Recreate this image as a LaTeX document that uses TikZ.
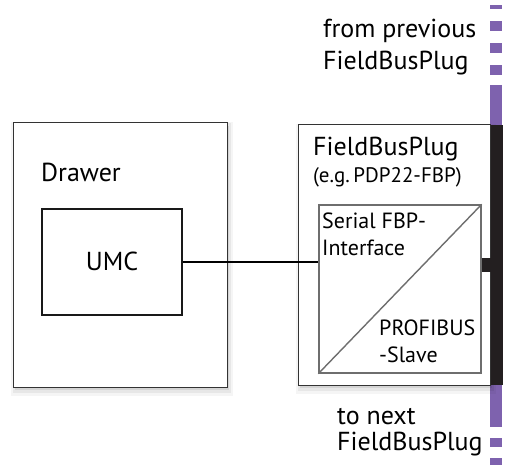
\documentclass[tikz,border=0pt]{standalone}
\usepackage{fontspec}
\setmainfont{PT Sans}
\usetikzlibrary{positioning,shadows}
\definecolor{buspurple}{HTML}{7E62AE}
\definecolor{bardark}{HTML}{231F20}
\definecolor{ifacegray}{HTML}{6E6E6E}

\tikzset{
    softshadow/.style={
        general shadow={fill=black, opacity=.08, shadow xshift=2pt, shadow yshift=-3pt},
        general shadow={fill=black, opacity=.06, shadow scale=1.02, shadow xshift=2pt, shadow yshift=-3pt},
        general shadow={fill=black, opacity=.04, shadow scale=1.04, shadow xshift=2pt, shadow yshift=-4pt}
    },
    outerbox/.style={draw=black!80, line width=1pt, fill=white, inner sep=0pt, softshadow},
    umcbox/.style={draw=black!90, line width=1.6pt, fill=white, inner sep=0pt},
    ifacebox/.style={draw=ifacegray, line width=1.4pt, inner sep=0pt},
    txt/.style={anchor=base west, inner sep=0pt, font=\fontsize{26}{30}\selectfont},
    smalltxt/.style={txt, font=\fontsize{21}{25}\selectfont},
    innertxt/.style={txt, font=\fontsize{22}{26}\selectfont}
}

\begin{document}
\begin{tikzpicture}[x=1pt,y=-1pt]
    \useasboundingbox (0,0) rectangle (505,465);

    % bus line
    \draw[buspurple, line width=12pt, dash pattern=on 10pt off 12pt] (496,75) -- (496,5);
    \draw[buspurple, line width=12pt] (496,85) -- (496,125);
    \draw[buspurple, line width=12pt] (496,385) -- (496,427);
    \draw[buspurple, line width=12pt, dash pattern=on 9pt off 11pt] (496,438) -- (496,465);

    % boxes
    \node[outerbox, minimum width=214pt, minimum height=264pt] (drawer) at (120,255) {};
    \node[umcbox, minimum width=140pt, minimum height=106pt] (umc) at (112,262) {};
    \node[outerbox, minimum width=192pt, minimum height=260pt] (plug) at (394,255) {};
    \node[ifacebox, minimum width=162pt, minimum height=168pt] (iface) at (400,289) {};
    \node[fill=bardark, minimum width=12pt, minimum height=260pt, inner sep=0pt, anchor=west] (bar) at (plug.east) {};

    % connections
    \draw[line width=1.4pt] (umc.east) -- (umc.east -| iface.west);
    \draw[bardark, line width=14pt] ([yshift=-3pt]umc.east -| iface.east) -- ([yshift=-3pt]umc.east -| bar.west);
    \draw[ifacegray, line width=1.4pt] (iface.south west) -- (iface.north east);

    % texts
    \node[txt] (prevA) at (323,38) {from previous};
    \node[txt] (prevB) at (323,70) {FieldBusPlug};
    \node[txt] (drawertxt) at (41,181) {Drawer};
    \node[txt, anchor=base] (umctxt) at (112,270) {UMC};
    \node[txt] (plugA) at (313,155) {FieldBusPlug};
    \node[smalltxt] (plugB) at (313,182) {(e.g.\,PDP22-FBP)};
    \node[innertxt] (ifaceA) at (322,228) {Serial FBP-};
    \node[innertxt] (ifaceB) at (322,255) {Interface};
    \node[innertxt] (slaveA) at (379,335) {PROFIBUS};
    \node[innertxt] (slaveB) at (379,362) {-Slave};
    \node[txt] (nextA) at (337,424) {to next};
    \node[txt] (nextB) at (337,450) {FieldBusPlug};
\end{tikzpicture}
\end{document}
